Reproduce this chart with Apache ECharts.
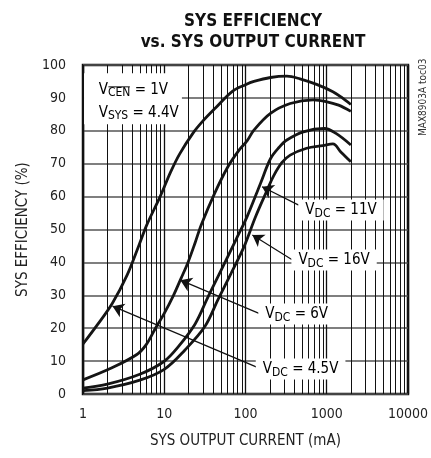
<!DOCTYPE html>
<html>
<head>
<meta charset="utf-8">
<script src="https://cdn.jsdelivr.net/npm/echarts@6/dist/echarts.min.js"></script>
<style>
  html, body { margin: 0; padding: 0; background: #fff; }
  #chart { width: 431px; height: 458px; }
</style>
</head>
<body>
<div id="chart"></div>
<script>
const FONT = '"DejaVu Sans Condensed", "Liberation Sans", sans-serif';

// minor log gridlines (2..9 per decade)
const minorX = [2, 3, 4, 5, 6, 7, 8, 9,
  20, 30, 40, 50, 60, 70, 80, 90,
  200, 300, 400, 500, 600, 700, 800, 900,
  2000, 3000, 4000, 5000, 6000, 7000, 8000, 9000];

// efficiency curves [current mA, efficiency %]
const vdc45 = [[1, 15.2], [1.5, 21], [2.3, 27.6], [3.5, 36.2], [4.9, 45.3], [6.1, 51.4], [8.9, 60],
  [12, 67.5], [15.5, 73], [22.6, 79.3], [30, 83], [43, 87], [69, 92], [100, 94], [127, 95],
  [203, 96.2], [323, 96.6], [468, 95.8], [750, 94.1], [1190, 91.9], [1500, 90.3], [1980, 88]];
const vdc6 = [[1, 4.3], [2.2, 7.8], [4.6, 12], [6, 15], [7.8, 20], [10, 24.5], [13, 30], [16, 35],
  [19.6, 40], [24, 46], [28.5, 51.4], [41.7, 61], [60.5, 69], [83.8, 74.2], [105, 77], [127, 80.2],
  [203, 85.3], [355, 88.3], [680, 89.4], [980, 88.9], [1400, 87.8], [1980, 85.9]];
const vdc11 = [[1, 1.8], [2, 3], [5, 6], [9.8, 9.8], [15, 14.5], [24, 21.3], [34.7, 29.6],
  [52.7, 38.7], [76, 46.8], [105, 54], [153, 64], [203, 71.5], [260, 75], [323, 77.2],
  [515, 79.7], [940, 80.7], [1300, 79.2], [1980, 75.7]];
const vdc16 = [[1, 1], [2, 1.8], [5, 4.2], [10, 7.5], [18, 13.4], [31.6, 20.5], [45.7, 28.6],
  [66.5, 36.7], [96, 44.8], [133, 53.9], [185, 62], [222, 66.3], [280, 70.3], [355, 72.6], [565, 74.7],
  [895, 75.5], [1190, 76], [1500, 73.5], [1980, 70.6]];

// annotations: label text, label centre, arrow tail, arrow tip (data coords)
const annoSub = ['DC', 'DC', 'DC', 'DC'];
const annoRest = [' = 11V', ' = 16V', ' = 6V', ' = 4.5V'];
const annoCenter = [[1500, 55.9], [1231, 40.7], [427, 24.3], [477, 7.6]];
const arrowTail = [[452, 57.4], [371, 40.9], [146.6, 24.5], [140, 8.1]];
const arrowTip = [[160, 63], [121.6, 48.3], [15.8, 34.6], [2.31, 26.7]];

const chart = echarts.init(document.getElementById('chart'));

const curveStyle = { color: '#151515', width: 2.8 };
const mkCurve = (name, data, idx) => ({
  name: name,
  type: 'line',
  data: data,
  showSymbol: false,
  smooth: 0.35,
  lineStyle: curveStyle,
  z: 4,
  silent: true,
  markLine: {
    silent: true,
    symbol: ['none', 'arrow'],
    symbolSize: 11,
    lineStyle: { color: '#111', width: 1.2, type: 'solid' },
    label: { show: false },
    data: [[{ coord: arrowTail[idx] }, { coord: arrowTip[idx] }]]
  }
});

const option = {
  animation: false,
  title: {
    text: 'SYS EFFICIENCY\nvs. SYS OUTPUT CURRENT',
    left: 248,
    top: 6,
    textAlign: 'center',
    textStyle: { fontFamily: FONT, fontSize: 17, fontWeight: 'bold', color: '#111', lineHeight: 21 }
  },
  grid: {
    left: 83, right: 18, top: 65, bottom: 64,
    show: true, borderColor: '#111', borderWidth: 2.5
  },
  xAxis: {
    type: 'log',
    logBase: 10,
    min: 1,
    max: 10000,
    name: 'SYS OUTPUT CURRENT (mA)',
    nameLocation: 'middle',
    nameGap: 40,
    nameTextStyle: { fontFamily: FONT, fontSize: 15, color: '#222' },
    axisLine: { show: false },
    axisTick: { show: false },
    axisLabel: { fontFamily: FONT, fontSize: 14, color: '#222', margin: 13, formatter: v => String(v) },
    splitLine: { show: true, lineStyle: { color: '#111', width: 1.3 } }
  },
  yAxis: {
    type: 'value',
    min: 0,
    max: 100,
    interval: 10,
    name: 'SYS EFFICIENCY (%)',
    nameLocation: 'middle',
    nameGap: 44,
    nameTextStyle: { fontFamily: FONT, fontSize: 15, color: '#222' },
    axisLine: { show: false },
    axisTick: { show: false },
    axisLabel: { fontFamily: FONT, fontSize: 14, color: '#222', margin: 17 },
    splitLine: { show: true, lineStyle: { color: '#555', width: 1.5 } }
  },
  series: [
    {
      type: 'line',
      data: [],
      z: 1,
      silent: true,
      markLine: {
        silent: true,
        symbol: 'none',
        animation: false,
        label: { show: false },
        lineStyle: { color: '#111', width: 1, type: 'solid' },
        data: minorX.map(v => ({ xAxis: v }))
      }
    },
    mkCurve('11V', vdc11, 0),
    mkCurve('16V', vdc16, 1),
    mkCurve('6V', vdc6, 2),
    mkCurve('4.5V', vdc45, 3)
  ]
};

chart.setOption(option);

// text annotations, placed through the chart's scales
const rich = {
  v: { fontFamily: FONT, fontSize: 15, color: '#111' },
  s: { fontFamily: FONT, fontSize: 12, color: '#111', padding: [6, 0, 0, 0] }
};
const graphics = [];
annoCenter.forEach((c, i) => {
  const p = chart.convertToPixel({ gridIndex: 0 }, c);
  graphics.push({
    type: 'text', x: p[0], y: p[1], z: 20,
    style: {
      text: '{v|V}{s|' + annoSub[i] + '}{v|' + annoRest[i] + '}',
      rich: rich, align: 'center', verticalAlign: 'middle',
      backgroundColor: '#fff', padding: [2, 7, 1, 7]
    }
  });
});

// condition box, top-left
const boxTL = chart.convertToPixel({ gridIndex: 0 }, [1.03, 97.5]);
const boxBR = chart.convertToPixel({ gridIndex: 0 }, [16.5, 82]);
graphics.push({
  type: 'rect', z: 19,
  shape: { x: boxTL[0], y: boxTL[1], width: boxBR[0] - boxTL[0], height: boxBR[1] - boxTL[1] },
  style: { fill: '#fff' }
});
const l1 = chart.convertToPixel({ gridIndex: 0 }, [1.56, 92.3]);
const l2 = chart.convertToPixel({ gridIndex: 0 }, [1.56, 85.4]);
graphics.push({
  type: 'text', x: l1[0], y: l1[1], z: 20,
  style: { text: '{v|V}{s|CEN}{v| = 1V}', rich: rich, align: 'left', verticalAlign: 'middle' }
});
graphics.push({
  type: 'text', x: l2[0], y: l2[1], z: 20,
  style: { text: '{v|V}{s|SYS}{v| = 4.4V}', rich: rich, align: 'left', verticalAlign: 'middle' }
});
// overline over CEN
const ctx = document.createElement('canvas').getContext('2d');
ctx.font = '15px ' + FONT;
const wV = ctx.measureText('V').width;
ctx.font = '12px ' + FONT;
const wCEN = ctx.measureText('CEN').width;
graphics.push({
  type: 'line', z: 21,
  shape: { x1: l1[0] + wV + 0.5, y1: l1[1] - 3.5, x2: l1[0] + wV + wCEN - 0.5, y2: l1[1] - 3.5 },
  style: { stroke: '#111', lineWidth: 1 }
});

// side code, reading bottom to top
graphics.push({
  type: 'text', x: 423, y: 136, z: 20, rotation: Math.PI / 2,
  style: { text: 'MAX8903A toc03', fontFamily: FONT, fontSize: 10, fill: '#333', align: 'left', verticalAlign: 'middle' }
});

chart.setOption({ graphic: graphics });
</script>
</body>
</html>
